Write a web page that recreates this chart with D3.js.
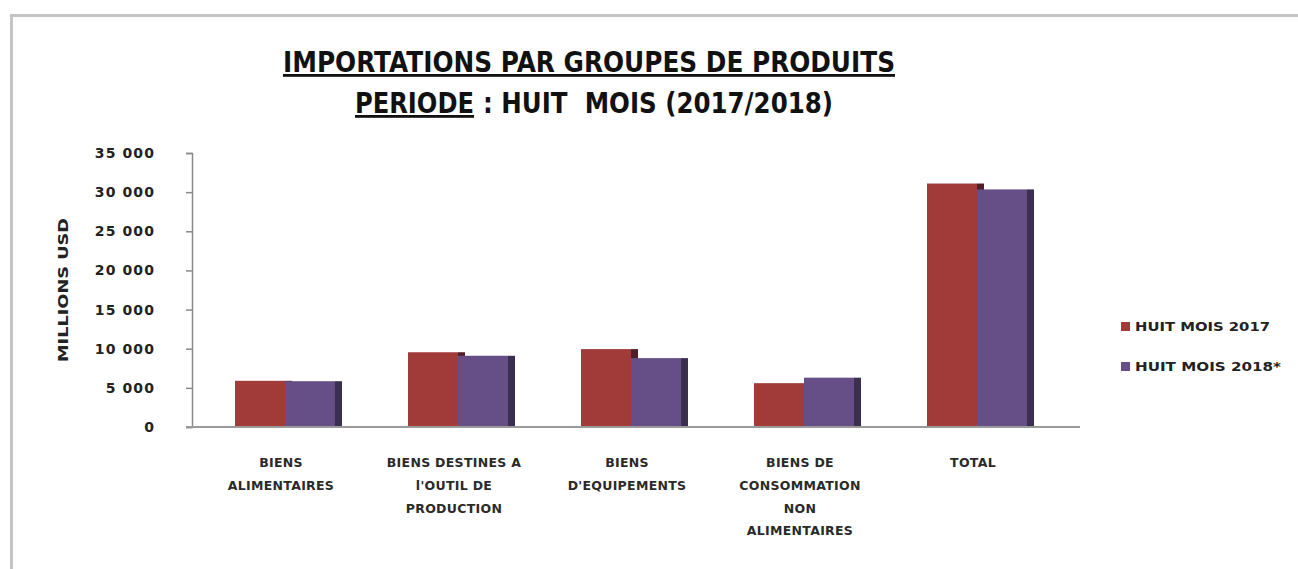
<!DOCTYPE html>
<html><head><meta charset="utf-8">
<script src="https://cdn.jsdelivr.net/npm/d3@7"></script>
<style>
html,body{margin:0;padding:0;background:#fff;}
svg{display:block;}
text{font-family:"DejaVu Sans",sans-serif;}
</style></head>
<body><div id="chart"></div>
<script>
// ---- data ----
const categories = ["BIENS ALIMENTAIRES","BIENS DESTINES A l'OUTIL DE PRODUCTION","BIENS D'EQUIPEMENTS","BIENS DE CONSOMMATION NON ALIMENTAIRES","TOTAL"];
const categoryLines = [["BIENS","ALIMENTAIRES"],["BIENS DESTINES A","l'OUTIL DE","PRODUCTION"],["BIENS","D'EQUIPEMENTS"],["BIENS DE","CONSOMMATION","NON","ALIMENTAIRES"],["TOTAL"]];
const seriesNames = ["HUIT MOIS 2017","HUIT MOIS 2018*"];
const values2017 = [5900, 9550, 9950, 5600, 31100];
const values2018 = [5850, 9100, 8800, 6300, 30350];
const yTicks = [0,5000,10000,15000,20000,25000,30000,35000];
const titleLine1 = "IMPORTATIONS PAR GROUPES DE PRODUITS";
const titleLine2a = "PERIODE";
const titleLine2b = ": HUIT  MOIS (2017/2018)";
const yTitle = "MILLIONS USD";

// ---- layout ----
const W = 1298, H = 569;
const front = ["#a03b3a","#664f86"];
const side = ["#4e1f27","#3a2f50"];
const depth = 7;

const svg = d3.select("#chart").append("svg").attr("width",W).attr("height",H);
svg.append("rect").attr("width",W).attr("height",H).attr("fill","#fff");
svg.append("rect").attr("x",11.5).attr("y",15.5).attr("width",W+20).attr("height",H+20)
  .attr("fill","none").attr("stroke","#c4c4c4").attr("stroke-width",3);

const x0 = d3.scaleBand().domain(categories).range([192,1070]).paddingInner(0.422).paddingOuter(0.2486);
const x1 = d3.scaleBand().domain(seriesNames).range([0,x0.bandwidth()]);
const y = d3.scaleLinear().domain([0,35000]).range([427,153]);

// title
svg.append("text").attr("x",589).attr("y",72).attr("text-anchor","middle")
  .attr("font-family","Lato").attr("font-weight","bold").attr("font-size",28).attr("fill","#111")
  .attr("textLength",612).attr("lengthAdjust","spacingAndGlyphs")
  .style("text-decoration","underline").text(titleLine1);
svg.append("text").attr("x",355).attr("y",113)
  .attr("font-family","Lato").attr("font-weight","bold").attr("font-size",28).attr("fill","#111")
  .attr("textLength",119).attr("lengthAdjust","spacingAndGlyphs")
  .style("text-decoration","underline").text(titleLine2a);
svg.append("text").attr("x",483).attr("y",113)
  .attr("font-family","Lato").attr("font-weight","bold").attr("font-size",28).attr("fill","#111")
  .attr("textLength",350).attr("lengthAdjust","spacingAndGlyphs").style("white-space","pre")
  .text(titleLine2b);

// y axis
const yAxis = svg.append("g").attr("transform","translate(192,0)")
  .call(d3.axisLeft(y).tickValues(yTicks).tickSize(6).tickPadding(31)
    .tickFormat(d => d3.format(",")(d).replace(/,/g," ")));
yAxis.select(".domain").attr("stroke","#8a8a8a").attr("stroke-width",1.5);
yAxis.selectAll(".tick line").attr("stroke","#8a8a8a").attr("stroke-width",1.5);
yAxis.selectAll(".tick text").attr("font-family","DejaVu Sans").attr("font-weight","bold")
  .attr("font-size",14).attr("letter-spacing",1.1).attr("fill","#222");

svg.append("text").attr("transform","translate(68,290) rotate(-90)").attr("text-anchor","middle")
  .attr("font-family","DejaVu Sans").attr("font-weight","bold").attr("font-size",14).attr("fill","#222")
  .attr("textLength",144).attr("lengthAdjust","spacingAndGlyphs").text(yTitle);

// bars
const rows = categories.map((c,i)=>({cat:c, vals:[values2017[i],values2018[i]]}));
const g = svg.append("g");
rows.forEach(r=>{
  r.vals.forEach((v,k)=>{
    const bx = x0(r.cat)+x1(seriesNames[k]);
    const bw = x1.bandwidth();
    g.append("rect").attr("x",bx+bw).attr("y",y(v)).attr("width",depth).attr("height",y(0)-y(v)).attr("fill",side[k]);
    g.append("rect").attr("x",bx).attr("y",y(v)).attr("width",bw).attr("height",y(0)-y(v)).attr("fill",front[k]);
  });
});

// x axis line
svg.append("line").attr("x1",186).attr("x2",1080).attr("y1",427).attr("y2",427)
  .attr("stroke","#9a9a9a").attr("stroke-width",2);

// category labels
categoryLines.forEach((lines,i)=>{
  const cx = x0(categories[i]) + x0.bandwidth()/2 - 4;
  const t = svg.append("text").attr("text-anchor","middle").attr("font-family","DejaVu Sans")
    .attr("font-weight","bold").attr("font-size",12.5).attr("letter-spacing",0.3).attr("fill","#2a2a2a");
  lines.forEach((ln,j)=>{
    t.append("tspan").attr("x",cx).attr("y",467+j*22.8).text(ln);
  });
});

// legend
seriesNames.forEach((s,k)=>{
  const ly = 331 + k*40;
  svg.append("rect").attr("x",1121).attr("y",ly-9).attr("width",9).attr("height",9).attr("fill",front[k]);
  svg.append("text").attr("x",1135).attr("y",ly).attr("font-family","DejaVu Sans").attr("font-weight","bold")
    .attr("font-size",13).attr("fill","#222").attr("textLength",k===0?135:146).attr("lengthAdjust","spacingAndGlyphs").text(s);
});
</script></body></html>
